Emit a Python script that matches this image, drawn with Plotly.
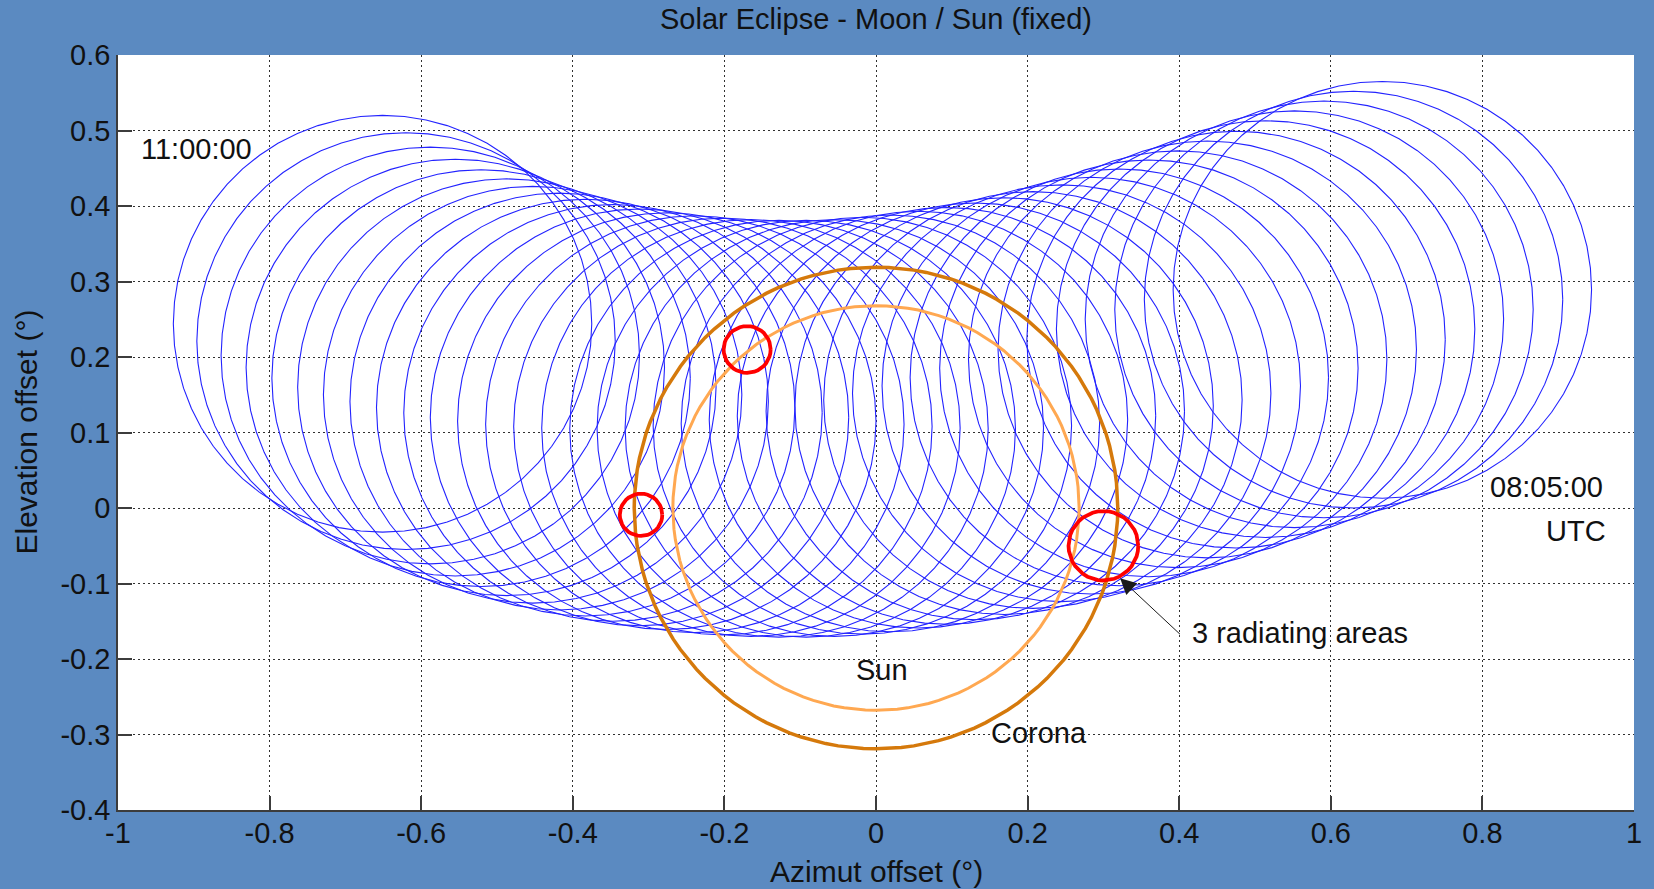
import numpy as np
import plotly.graph_objects as go

# ---------------- data ----------------
# Moon centre positions (azimut / elevation offset, deg), 08:05:00 (right) -> 11:00:00 (left)
moon_x = [0.668, 0.630, 0.591, 0.552, 0.514, 0.475, 0.437, 0.398, 0.360, 0.321,
          0.284, 0.245, 0.207, 0.169, 0.131, 0.093, 0.056, 0.019, -0.018, -0.055,
          -0.092, -0.128, -0.165, -0.202, -0.239, -0.276, -0.312, -0.347, -0.383,
          -0.418, -0.453, -0.487, -0.521, -0.555, -0.588, -0.620, -0.651]
moon_y = [0.289, 0.276, 0.263, 0.250, 0.237, 0.223, 0.210, 0.197, 0.185, 0.173,
          0.162, 0.152, 0.143, 0.135, 0.128, 0.122, 0.117, 0.112, 0.109, 0.106,
          0.105, 0.105, 0.106, 0.108, 0.111, 0.115, 0.120, 0.126, 0.133,
          0.141, 0.150, 0.160, 0.172, 0.186, 0.202, 0.221, 0.244]
moon_radius = 0.276

sun_center = [0.0, 0.0]
sun_radius = 0.268
corona_radius = 0.319

red_x = [-0.170, -0.310, 0.300]
red_y = [0.210, -0.009, -0.050]
red_r = [0.031, 0.028, 0.046]

x_ticks = [-1, -0.8, -0.6, -0.4, -0.2, 0, 0.2, 0.4, 0.6, 0.8, 1]
x_tick_text = ["-1", "-0.8", "-0.6", "-0.4", "-0.2", "0", "0.2", "0.4", "0.6", "0.8", "1"]
y_ticks = [-0.4, -0.3, -0.2, -0.1, 0, 0.1, 0.2, 0.3, 0.4, 0.5, 0.6]
y_tick_text = ["-0.4", "-0.3", "-0.2", "-0.1", "0", "0.1", "0.2", "0.3", "0.4", "0.5", "0.6"]

# ---------------- helpers ----------------
def circle(cx, cy, r, n=61):
    t = np.linspace(0, 2 * np.pi, n)
    return list(cx + r * np.cos(t)), list(cy + r * np.sin(t))

FONT = "Liberation Sans, Arial, Helvetica, sans-serif"
FS = 29

fig = go.Figure()

# moon circles (one trace, separated by None)
mx, my = [], []
for cx, cy in zip(moon_x, moon_y):
    xs, ys = circle(cx, cy, moon_radius)
    mx += xs + [None]
    my += ys + [None]
fig.add_trace(go.Scatter(x=mx, y=my, mode="lines",
                         line=dict(color="rgb(35,35,255)", width=1.1),
                         hoverinfo="skip"))

# sun and corona
sx, sy = circle(sun_center[0], sun_center[1], sun_radius, 121)
fig.add_trace(go.Scatter(x=sx, y=sy, mode="lines",
                         line=dict(color="#FFA851", width=3), hoverinfo="skip"))
kx, ky = circle(sun_center[0], sun_center[1], corona_radius, 121)
fig.add_trace(go.Scatter(x=kx, y=ky, mode="lines",
                         line=dict(color="#D5790B", width=3.5), hoverinfo="skip"))

# red radiating areas
for cx, cy, r in zip(red_x, red_y, red_r):
    xs, ys = circle(cx, cy, r, 41)
    fig.add_trace(go.Scatter(x=xs, y=ys, mode="lines",
                             line=dict(color="#FF0000", width=3.8), hoverinfo="skip"))

axis_common = dict(
    showgrid=True, gridcolor="#303030", gridwidth=1, griddash="2px,3px",
    zeroline=False, showline=True, linecolor="#3c3c3c", linewidth=1.5,
    ticks="inside", ticklen=14, tickwidth=1.5, tickcolor="#3c3c3c",
    tickfont=dict(family=FONT, size=FS, color="#111"), mirror=False,
)
fig.update_xaxes(range=[-1, 1], tickvals=x_ticks, ticktext=x_tick_text,
                 ticklabelstandoff=-4, **axis_common)
fig.update_yaxes(range=[-0.4, 0.6], tickvals=y_ticks, ticktext=y_tick_text, **axis_common)

ann_font = dict(family=FONT, size=FS, color="#111")
annotations = [
    dict(x=-0.972, y=0.476, text="11:00:00", xanchor="left", yanchor="middle", showarrow=False, font=ann_font),
    dict(x=0.808, y=0.028, text="08:05:00", xanchor="left", yanchor="middle", showarrow=False, font=ann_font),
    dict(x=0.9655, y=-0.031, text="UTC", xanchor="right", yanchor="middle", showarrow=False, font=ann_font),
    dict(x=0.0075, y=-0.215, text="Sun", xanchor="center", yanchor="middle", showarrow=False, font=ann_font),
    dict(x=0.2146, y=-0.298, text="Corona", xanchor="center", yanchor="middle", showarrow=False, font=ann_font),
    dict(x=0.414, y=-0.166, text="3 radiating areas", xanchor="left", yanchor="middle", showarrow=False, font=ann_font),
    dict(x=0.322, y=-0.093, ax=0.403, ay=-0.169, axref="x", ayref="y", text="",
         showarrow=True, arrowhead=2, arrowsize=3.2, arrowwidth=1, arrowcolor="#1a1a1a"),
    dict(x=0.5, y=-61 / 755, xref="paper", yref="paper", text="Azimut offset (°)",
         xanchor="center", yanchor="middle", showarrow=False, font=dict(family=FONT, size=30, color="#111")),
    dict(x=-92 / 1516, y=0.5, xref="paper", yref="paper", text="Elevation offset (°)",
         textangle=-90, xanchor="center", yanchor="middle", showarrow=False, font=dict(family=FONT, size=30, color="#111")),
]

fig.update_layout(
    width=1654, height=889,
    margin=dict(l=118, r=20, t=55, b=79),
    paper_bgcolor="#5B8AC1", plot_bgcolor="white",
    showlegend=False,
    font=dict(family=FONT, size=FS, color="#111"),
    title=dict(text="Solar Eclipse - Moon / Sun (fixed)", x=0.5, xref="paper",
               y=1 - 19 / 889, yref="container", yanchor="middle", xanchor="center",
               font=dict(family=FONT, size=FS, color="#111")),
    annotations=annotations,
)

fig.write_html("out.html")
